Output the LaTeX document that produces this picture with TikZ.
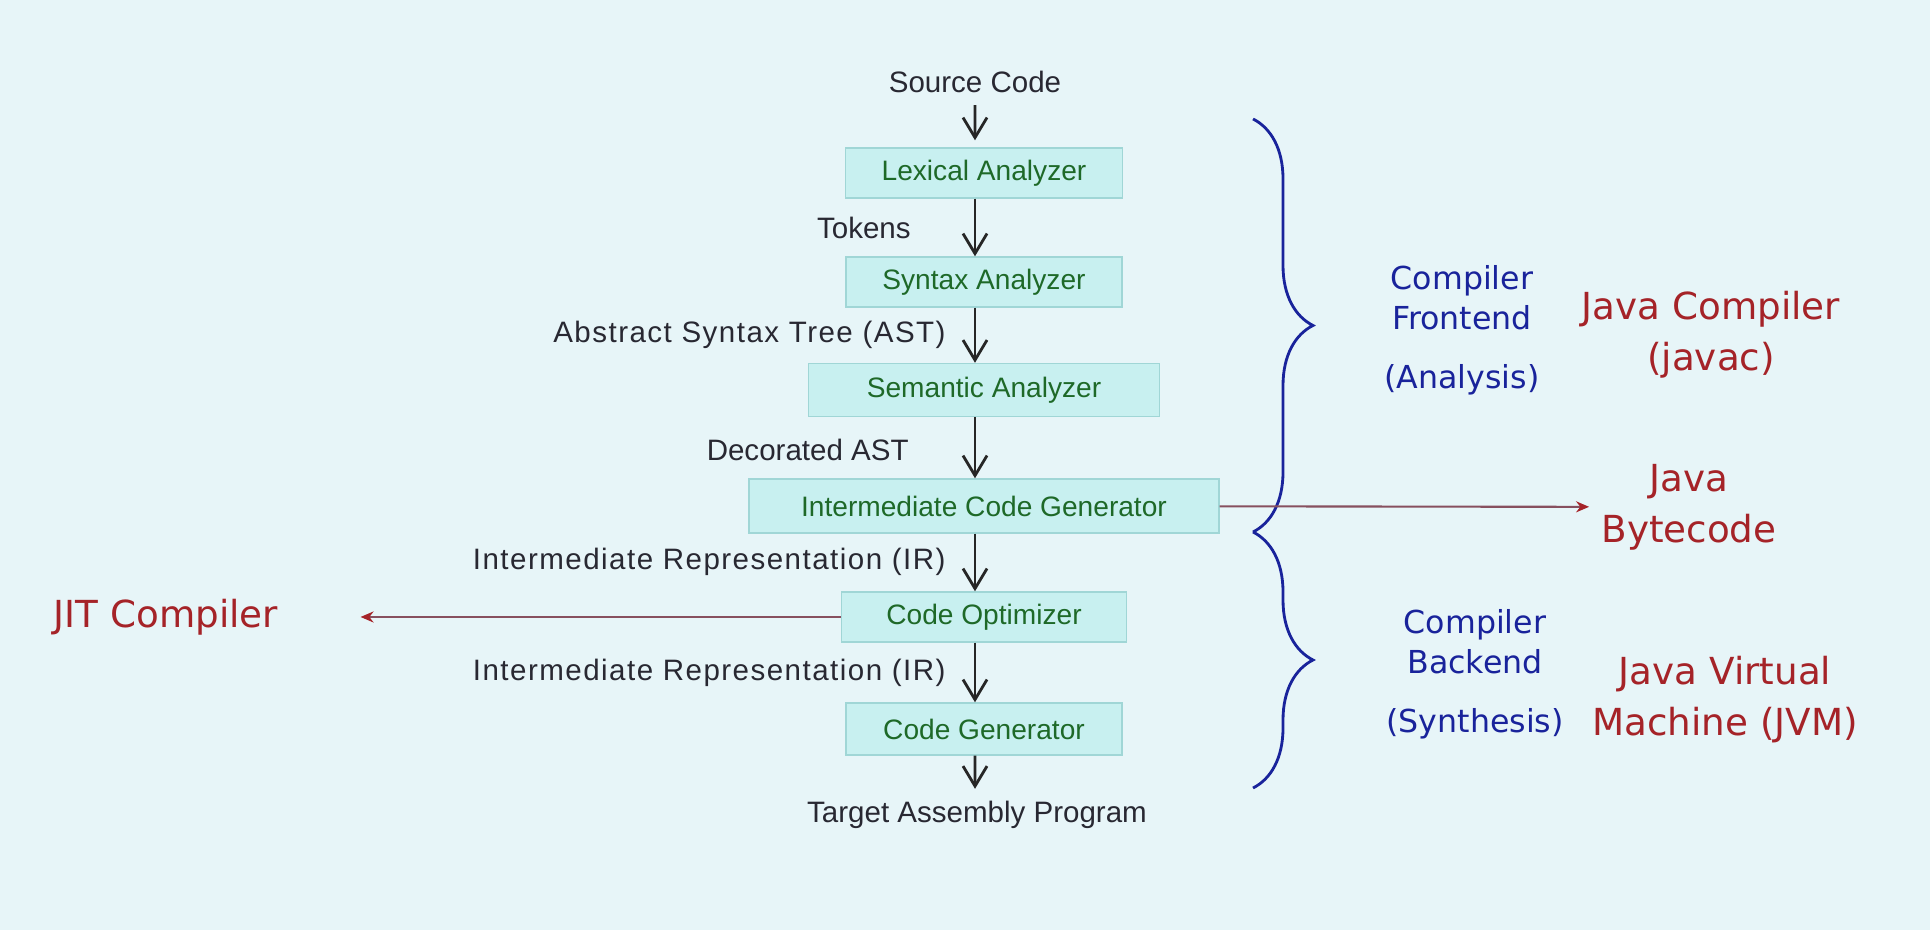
\documentclass[tikz,border=0pt]{standalone}
\usepackage{fontspec}
\setmainfont{Liberation Sans}
\newfontfamily\notefont{DejaVu Sans}
\usetikzlibrary{arrows.meta,decorations.pathreplacing}

\definecolor{bgcol}{RGB}{231,245,248}
\definecolor{boxfill}{RGB}{200,240,240}
\definecolor{boxline}{RGB}{160,214,214}
\definecolor{stagegreen}{RGB}{30,105,40}
\definecolor{labelgray}{RGB}{40,40,50}
\definecolor{phaseblue}{RGB}{25,35,155}
\definecolor{javared}{RGB}{165,35,40}
\definecolor{sidecol}{RGB}{135,80,95}

\begin{document}
\begin{tikzpicture}[x=0.1mm,y=-0.1mm,
      stagebox/.style={rectangle, draw=boxline, fill=boxfill, text=stagegreen,
        font=\fontsize{8}{10}\selectfont, minimum height=5mm},
      flowlabel/.style={text=labelgray, font=\fontsize{8.4}{10}\selectfont},
      widelabel/.style={flowlabel, font=\fontsize{8.4}{10}\selectfont\addfontfeatures{LetterSpace=5}},
      phaselabel/.style={text=phaseblue, align=center, font=\notefont\fontsize{9}{11.4}\selectfont},
      javalabel/.style={text=javared, align=center, font=\notefont\fontsize{10.6}{14.5}\selectfont},
      flow/.style={thick, draw=black!85, -{Straight Barb[length=2mm,width=2.4mm]}},
      side/.style={line width=0.6pt, draw=sidecol, -{Stealth[length=1.3mm,width=1.1mm,color=javared]}},
      phasebrace/.style={draw=phaseblue, line width=0.8pt, decorate, decoration={brace, amplitude=6mm}}]

    \fill[bgcol] (0,0) rectangle (1930,930);

    \node[stagebox, minimum width=2.77cm] (lex) at (984,173) {Lexical Analyzer};
    \node[stagebox, minimum width=2.76cm] (syn) at (984,282) {Syntax Analyzer};
    \node[stagebox, minimum width=3.51cm, minimum height=5.3mm] (sem) at (984,390) {Semantic Analyzer};
    \node[stagebox, minimum width=4.70cm, minimum height=5.4mm] (icg) at (984,506) {Intermediate Code Generator};
    \node[stagebox, minimum width=2.85cm] (opt) at (984,617) {Code Optimizer};
    \node[stagebox, minimum width=2.76cm, minimum height=5.2mm] (gen) at (984,729) {Code Generator};

    \node[flowlabel] (src) at (975,82) {Source Code};
    \node[flowlabel, anchor=east] (tok) at (923,228) {Tokens};
    \node[widelabel, anchor=east] (ast) at (958,335) {Abstract Syntax Tree (AST)};
    \node[flowlabel, anchor=east] (dast) at (921,450) {Decorated AST};
    \node[widelabel, anchor=east] (ir1) at (958,562) {Intermediate Representation (IR)};
    \node[widelabel, anchor=east] (ir2) at (958,673) {Intermediate Representation (IR)};
    \node[flowlabel] (tap) at (977,815) {Target Assembly Program};

    \draw[flow] (src.south) -- ([xshift=-0.9mm,yshift=0.7mm]lex.north);
    \draw[flow] ([xshift=-0.9mm]lex.south) -- ([xshift=-0.9mm]syn.north);
    \draw[flow] ([xshift=-0.9mm]syn.south) -- ([xshift=-0.9mm]sem.north);
    \draw[flow] ([xshift=-0.9mm]sem.south) -- ([xshift=-0.9mm]icg.north);
    \draw[flow] ([xshift=-0.9mm]icg.south) -- ([xshift=-0.9mm]opt.north);
    \draw[flow] ([xshift=-0.9mm]opt.south) -- ([xshift=-0.9mm]gen.north);
    \draw[flow] ([xshift=-0.9mm]gen.south) -- ([xshift=-0.2mm]tap.north);

    % frontend / backend
    \draw[phasebrace] (1253,119) -- (1253,532);
    \draw[phasebrace] (1253,532) -- (1253,788);
    \node[phaselabel] (front) at (1462,330) {Compiler\\Frontend\\[1.9mm](Analysis)};
    \node[phaselabel] (back) at (1475,674) {Compiler\\Backend\\[1.9mm](Synthesis)};

    \node[javalabel] (javac) at (1711,335) {Java Compiler\\(javac)};
    \node[javalabel] (byte) at (1689,507) {Java\\Bytecode};
    \node[javalabel] (jvm) at (1725,700) {Java Virtual\\Machine (JVM)};
    \node[javalabel] (jit) at (166,617) {JIT Compiler};

    \draw[side] (icg) -- (byte);
    \draw[side, shorten >=7mm] (opt) -- (jit);

  \end{tikzpicture}
\end{document}
